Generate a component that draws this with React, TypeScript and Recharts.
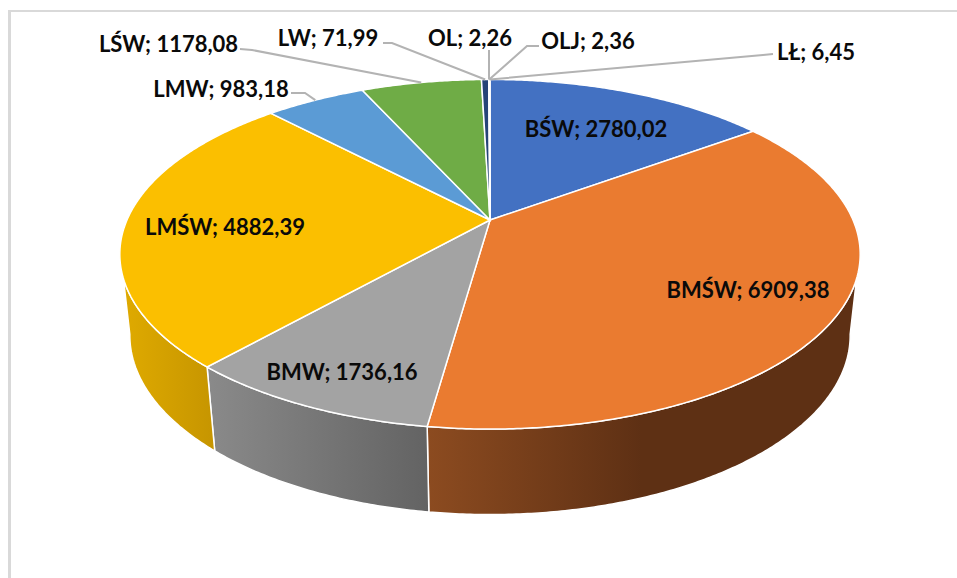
import { Pie, PieChart } from "recharts";

const categories = ["BŚW", "BMŚW", "BMW", "LMŚW", "LMW", "LŚW", "LW", "OL", "OLJ", "LŁ"];
const values = [2780.02, 6909.38, 1736.16, 4882.39, 983.18, 1178.08, 71.99, 2.26, 2.36, 6.45];
const valueLabels = ["2780,02", "6909,38", "1736,16", "4882,39", "983,18", "1178,08", "71,99", "2,26", "2,36", "6,45"];
const colors = ["#4371c2", "#ea7b30", "#a3a3a3", "#fbbf00", "#5b9bd5", "#6fac46", "#264478", "#9e480e", "#636363", "#997300"];

// side wall shading, only the front slices show one
const wallFrom: Record<string, string> = { BMŚW: "#8c4b20", BMW: "#8a8a8a", LMŚW: "#dfaa00" };
const wallTo: Record<string, string> = { BMŚW: "#5e3014", BMW: "#636363", LMŚW: "#c69500" };
const wallFade: Record<string, number> = { BMŚW: 0.5, BMW: 1, LMŚW: 1 };

// label centre, then the elbow points of the leader (none = label sits on the slice)
const labelCenters = [
  [596, 128], [748, 289], [342, 371], [225, 226], [221, 88],
  [168.5, 43], [328, 37], [470, 37], [588, 40], [816, 51],
];
const leaders: (number[][] | null)[] = [
  null, null, null, null,
  [[291, 93], [305, 93]],
  [[240, 49], [252, 50]],
  [[383, 43], [392, 43]],
  [[489, 50]],
  [[539, 46], [527, 46]],
  [[773, 54], [763, 55]],
];

const chartData = categories.map((name, i) => ({ name, value: values[i], fill: colors[i] }));

const WIDTH = 957;
const HEIGHT = 578;
const CX = 490;
const CY = 220;
const RADIUS = 363;

// perspective tilt of the pie plane
const TILT_Y = 0.463;
const TILT_K = -0.196;
const ELLIPSE_CY = 254;
const BOTTOM_CY = 335;
const BOTTOM_SX = 0.973;
const BOTTOM_SY = 1.026;

// the wall starts at these clock angles on the top and bottom rims
const TOP_RIM = [109, 251];
const BOTTOM_RIM = [101, 259];

// clock: degrees clockwise from 12 o'clock
function topPoint(clock: number, cx: number, cy: number, r: number) {
  const t = (clock * Math.PI) / 180;
  const u = Math.sin(t);
  const v = -Math.cos(t);
  const w = 1 + TILT_K * v;
  return [cx + (r * u) / w, cy + (r * TILT_Y * v) / w];
}

function bottomPoint(clock: number, cx: number, cy: number, r: number) {
  const [x, y] = topPoint(clock, cx, cy, r);
  return [cx + (x - cx) * BOTTOM_SX, BOTTOM_CY + (y - ELLIPSE_CY) * BOTTOM_SY];
}

function arc(from: number, to: number, at: (clock: number) => number[]) {
  const steps = Math.max(1, Math.ceil(Math.abs(to - from) * 2));
  const points: number[][] = [];
  for (let i = 0; i <= steps; i++) {
    points.push(at(from + ((to - from) * i) / steps));
  }
  return points;
}

const toPath = (points: number[][]) =>
  "M" + points.map((p) => `${p[0].toFixed(2)},${p[1].toFixed(2)}`).join("L") + "Z";

function Slice3D(props: any) {
  const { cx, cy, outerRadius, startAngle, endAngle, fill, name } = props;
  const start = 90 - startAngle;
  const end = 90 - endAngle;
  const top = (c: number) => topPoint(c, cx, cy, outerRadius);
  const bottom = (c: number) => bottomPoint(c, cx, cy, outerRadius);

  let wall = null;
  if (wallFrom[name]) {
    const topArc = arc(Math.max(start, TOP_RIM[0]), Math.min(end, TOP_RIM[1]), top);
    const bottomArc = arc(
      end >= TOP_RIM[1] ? BOTTOM_RIM[1] : end,
      start <= TOP_RIM[0] ? BOTTOM_RIM[0] : start,
      bottom,
    );
    const points = [...topArc, ...bottomArc];
    const xs = points.map((p) => p[0]);
    const minX = Math.min(...xs);
    const maxX = Math.max(...xs);
    const gradientId = `wall-${categories.indexOf(name)}`;
    wall = (
      <>
        <defs>
          <linearGradient
            id={gradientId}
            gradientUnits="userSpaceOnUse"
            x1={minX}
            x2={minX + (maxX - minX) * wallFade[name]}
            y1={0}
            y2={0}
          >
            <stop offset="0" stopColor={wallFrom[name]} />
            <stop offset="1" stopColor={wallTo[name]} />
          </linearGradient>
        </defs>
        <path d={toPath(points)} fill={`url(#${gradientId})`} stroke="#fff" strokeWidth={1.5} />
      </>
    );
  }

  return (
    <g>
      {wall}
      <path d={toPath([[cx, cy], ...arc(start, end, top)])} fill={fill} stroke="#fff" strokeWidth={1.5} />
    </g>
  );
}

function SliceLabel(props: any) {
  const { index, cx, cy, outerRadius, midAngle } = props;
  const [x, y] = labelCenters[index];
  const elbows = leaders[index];
  const rim = topPoint(90 - midAngle, cx, cy, outerRadius);
  return (
    <g>
      {elbows ? (
        <polyline
          points={[...elbows, rim].map((p) => p.join(",")).join(" ")}
          fill="none"
          stroke="#b3b3b3"
          strokeWidth={2}
        />
      ) : null}
      <text
        x={x}
        y={y}
        textAnchor="middle"
        dominantBaseline="central"
        fontFamily="Lato, sans-serif"
        fontWeight={700}
        fontSize={22}
        fill="#0a0a0a"
      >
        {`${categories[index]}; ${valueLabels[index]}`}
      </text>
    </g>
  );
}

export default function App() {
  return (
    <div
      style={{
        position: "absolute",
        left: 0,
        top: 0,
        width: WIDTH,
        height: HEIGHT,
        background: "#fff",
        overflow: "hidden",
      }}
    >
      <div
        style={{
          position: "absolute",
          left: 8,
          top: 10,
          width: WIDTH,
          height: HEIGHT,
          borderLeft: "3px solid #d9d9d9",
          borderTop: "2px solid #d9d9d9",
        }}
      />
      <div style={{ position: "absolute", left: 0, top: 0 }}>
        <PieChart width={WIDTH} height={HEIGHT} margin={{ top: 0, right: 0, bottom: 0, left: 0 }}>
          <Pie
            data={chartData}
            dataKey="value"
            nameKey="name"
            cx={CX}
            cy={CY}
            innerRadius={0}
            outerRadius={RADIUS}
            startAngle={90}
            endAngle={-270}
            paddingAngle={0}
            stroke="none"
            shape={Slice3D}
            label={SliceLabel}
            labelLine={false}
            isAnimationActive={false}
          />
        </PieChart>
      </div>
    </div>
  );
}
